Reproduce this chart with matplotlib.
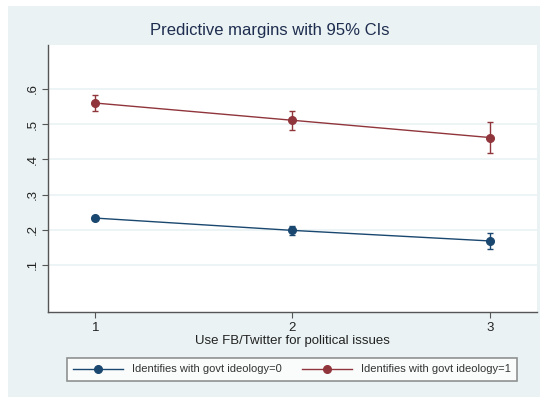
import matplotlib
matplotlib.use("Agg")
import matplotlib.pyplot as plt
from matplotlib.patches import Rectangle

plt.rcParams['font.family'] = ['Liberation Sans', 'DejaVu Sans']

x_vals = [1, 2, 3]
x_ticklabels = ["1", "2", "3"]
y_ticks = [0.1, 0.2, 0.3, 0.4, 0.5, 0.6]
y_ticklabels = [".1", ".2", ".3", ".4", ".5", ".6"]

series_names = ["Identifies with govt ideology=0", "Identifies with govt ideology=1"]
margins_0 = [0.233, 0.198, 0.168]
ci_low_0 = [0.227, 0.186, 0.146]
ci_high_0 = [0.239, 0.210, 0.191]
margins_1 = [0.560, 0.511, 0.462]
ci_low_1 = [0.536, 0.484, 0.418]
ci_high_1 = [0.584, 0.538, 0.505]

colors = ["#1a476f", "#90353b"]
bg = "#eaf2f3"

W, H = 540, 397
fig = plt.figure(figsize=(W / 100, H / 100), dpi=100, facecolor="white")
fig.patches.append(Rectangle((8 / W, 0), 1 - 8 / W, 1 - 6 / H, transform=fig.transFigure,
                             facecolor=bg, edgecolor="none", zorder=-10))

ax = fig.add_axes([48 / W, 1 - 312 / H, (537 - 48) / W, (312 - 45) / H])
ax.set_facecolor("white")

for m, lo, hi, c, name in [(margins_0, ci_low_0, ci_high_0, colors[0], series_names[0]),
                           (margins_1, ci_low_1, ci_high_1, colors[1], series_names[1])]:
    yerr = [[mi - l for mi, l in zip(m, lo)], [h - mi for mi, h in zip(m, hi)]]
    ax.errorbar(x_vals, m, yerr=yerr, fmt="none", ecolor=c, elinewidth=1.0,
                capsize=2.5, capthick=1.0, zorder=3)
    ax.plot(x_vals, m, color=c, lw=1.0, marker="o", markersize=5.5, label=name, zorder=4)

ax.set_xlim(0.76, 3.24)
ax.set_ylim(-0.034, 0.725)
ax.set_xticks(x_vals)
ax.set_xticklabels(x_ticklabels, fontsize=9.5)
ax.set_yticks(y_ticks)
ax.set_yticklabels(y_ticklabels, fontsize=9.5, rotation=90, va="center")
ax.yaxis.grid(True, color=bg, lw=1.2)
ax.set_axisbelow(True)
for s in ["top", "right"]:
    ax.spines[s].set_visible(False)
for s in ["left", "bottom"]:
    ax.spines[s].set_color("#555555")
    ax.spines[s].set_linewidth(1.0)
ax.tick_params(axis="both", colors="#555555", labelcolor="#222222", length=4, width=0.8, pad=3)

ax.set_xlabel("Use FB/Twitter for political issues", fontsize=9.5, color="#222222", labelpad=1)
fig.text(270 / W, 1 - 30 / H, "Predictive margins with 95% CIs",
         ha="center", va="center", fontsize=12, color="#1e2d4f")

leg = fig.legend(loc="center", bbox_to_anchor=(292 / W, 1 - 369.5 / H), ncol=2, fontsize=8,
                 frameon=True, fancybox=False, edgecolor="#777777", handlelength=4.5,
                 columnspacing=1.9, handletextpad=0.8, borderpad=0.55, borderaxespad=0)
leg.get_frame().set_linewidth(1.2)
for t in leg.get_texts():
    t.set_color("#333333")

fig.savefig("out.png", dpi=100, facecolor="white")
